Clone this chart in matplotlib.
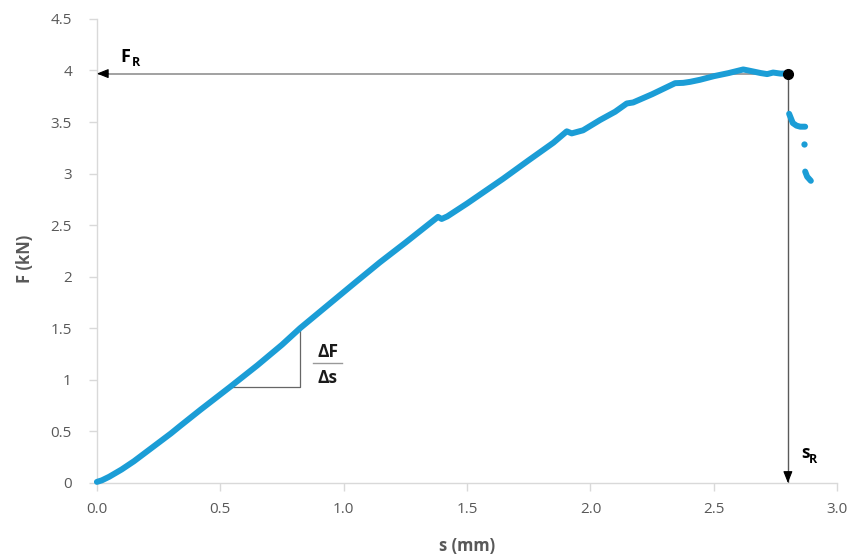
import matplotlib
matplotlib.use("Agg")
import matplotlib.pyplot as plt

# ---- data ----
s_main = [0.00, 0.02, 0.05, 0.10, 0.15, 0.20, 0.25, 0.30, 0.336, 0.42, 0.539, 0.65, 0.75,
          0.823, 0.944, 1.05, 1.147, 1.25, 1.382, 1.397, 1.42, 1.50, 1.646, 1.75, 1.85,
          1.904, 1.924, 1.97, 2.039, 2.10, 2.147, 2.173, 2.25, 2.343, 2.376, 2.404, 2.444,
          2.50, 2.56, 2.619, 2.64, 2.66, 2.69, 2.716, 2.74, 2.77, 2.80]
F_main = [0.01, 0.025, 0.06, 0.13, 0.21, 0.30, 0.39, 0.48, 0.55, 0.71, 0.93, 1.14, 1.34,
          1.50, 1.74, 1.95, 2.14, 2.33, 2.58, 2.56, 2.585, 2.71, 2.95, 3.13, 3.30,
          3.41, 3.39, 3.42, 3.52, 3.60, 3.68, 3.69, 3.77, 3.877, 3.88, 3.89, 3.91,
          3.945, 3.975, 4.01, 4.00, 3.99, 3.975, 3.965, 3.98, 3.97, 3.97]
s_drop1 = [2.805, 2.81, 2.82, 2.835, 2.85, 2.87]
F_drop1 = [3.58, 3.55, 3.49, 3.465, 3.455, 3.455]
s_drop2 = [2.867]
F_drop2 = [3.29]
s_drop3 = [2.87, 2.878, 2.893]
F_drop3 = [3.02, 2.97, 2.93]

s_R = 2.80
F_R = 3.97
tri_s = [0.539, 0.823]
tri_F = [0.928, 1.516]

x_ticks = [0.0, 0.5, 1.0, 1.5, 2.0, 2.5, 3.0]
y_ticks = [0, 0.5, 1, 1.5, 2, 2.5, 3, 3.5, 4, 4.5]

plt.rcParams['font.family'] = ['Open Sans', 'DejaVu Sans']

fig = plt.figure(figsize=(8.5, 5.57), dpi=100)
ax = fig.add_axes([0.114, 0.133, 0.871, 0.833])

blue = '#1b9dd6'
ax.plot(s_main, F_main, color=blue, lw=4.3, solid_capstyle='round',
        solid_joinstyle='round', clip_on=False, zorder=3)
for xs, ys in [(s_drop1, F_drop1), (s_drop3, F_drop3)]:
    ax.plot(xs, ys, color=blue, lw=4.3, solid_capstyle='round',
            solid_joinstyle='round', clip_on=False, zorder=3)
ax.plot(s_drop2, F_drop2, 'o', color=blue, ms=4.5, mec='none', zorder=3)

# reference lines with arrowheads
ax.plot([0, s_R], [F_R, F_R], color='#9a9a9a', lw=1.3, zorder=2)
ax.plot([s_R, s_R], [0, F_R], color='#5a5a5a', lw=1.0, zorder=2)
head = dict(arrowstyle='-|>,head_length=0.7,head_width=0.28', color='black',
            lw=0.8, shrinkA=0, shrinkB=0, mutation_scale=10)
ax.annotate('', xy=(0, F_R), xytext=(8, 0), textcoords='offset points',
            arrowprops=head, zorder=4, annotation_clip=False)
ax.annotate('', xy=(s_R, 0), xytext=(0, 8), textcoords='offset points',
            arrowprops=head, zorder=4, annotation_clip=False)
ax.plot([s_R], [F_R], 'o', color='black', ms=7, zorder=5, clip_on=False)

# slope triangle
ax.plot([tri_s[0], tri_s[1], tri_s[1]], [tri_F[0], tri_F[0], tri_F[1]],
        color='#666666', lw=0.9, zorder=2)
ax.text(0.935, 1.27, 'ΔF', fontsize=12.5, fontweight='bold', ha='center',
        va='center', color='#1a1a1a')
ax.text(0.935, 1.02, 'Δs', fontsize=12.5, fontweight='bold', ha='center',
        va='center', color='#1a1a1a')
ax.plot([0.876, 0.993], [1.16, 1.16], color='#999999', lw=1.0)

# labels F_R and s_R
ax.text(0.097, 4.08, 'F', fontsize=13, fontweight='bold', color='black', ha='left', va='baseline')
ax.text(0.140, 4.045, 'R', fontsize=9, fontweight='bold', color='black', ha='left', va='baseline')
ax.text(2.854, 0.243, 's', fontsize=12.5, fontweight='bold', color='black', ha='left', va='baseline')
ax.text(2.886, 0.194, 'R', fontsize=9, fontweight='bold', color='black', ha='left', va='baseline')

ax.set_xlim(0, 3.0)
ax.set_ylim(0, 4.5)
ax.set_xticks(x_ticks)
ax.set_xticklabels([f'{v:.1f}' for v in x_ticks])
ax.set_yticks(y_ticks)
ax.set_yticklabels([f'{v:g}' for v in y_ticks])

for side in ['top', 'right']:
    ax.spines[side].set_visible(False)
for side in ['left', 'bottom']:
    ax.spines[side].set_color('#d9d9d9')
    ax.spines[side].set_linewidth(1.0)
ax.tick_params(axis='both', direction='out', length=6, width=1.0, color='#d9d9d9',
               labelcolor='#595959', labelsize=11)
ax.tick_params(axis='x', pad=8)
ax.tick_params(axis='y', pad=12)

ax.set_xlabel('s (mm)', fontsize=12, fontweight='bold', color='#595959', labelpad=14)
ax.set_ylabel('F (kN)', fontsize=12, fontweight='bold', color='#595959', labelpad=20)
ax.yaxis.set_label_coords(-0.085, 0.483)

fig.savefig('out.png', dpi=100)
